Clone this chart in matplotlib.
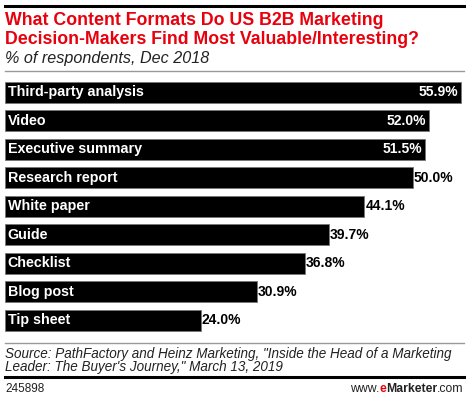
import matplotlib
matplotlib.use("Agg")
import matplotlib.pyplot as plt
from matplotlib.lines import Line2D

plt.rcParams['font.family'] = ['Liberation Sans', 'DejaVu Sans']

categories = ["Third-party analysis", "Video", "Executive summary", "Research report",
              "White paper", "Guide", "Checklist", "Blog post", "Tip sheet"]
values = [55.9, 52.0, 51.5, 50.0, 44.1, 39.7, 36.8, 30.9, 24.0]
labels = ["55.9%", "52.0%", "51.5%", "50.0%", "44.1%", "39.7%", "36.8%", "30.9%", "24.0%"]

W, H = 470, 399
fig = plt.figure(figsize=(W / 100, H / 100), dpi=100)


def fx(px):
    return px / W


def fy(py):
    return 1 - py / H


def hline(py, color, lw, x0=5, x1=464):
    fig.add_artist(Line2D([fx(x0), fx(x1)], [fy(py), fy(py)], color=color, lw=lw,
                          transform=fig.transFigure))


hline(6, "black", 2.2)
fig.text(fx(5), fy(20.5), "What Content Formats Do US B2B Marketing", color="#e8000d",
         fontsize=12.8, fontweight="bold", va="center", ha="left")
fig.text(fx(5), fy(39.5), "Decision-Makers Find Most Valuable/Interesting?", color="#e8000d",
         fontsize=12.8, fontweight="bold", va="center", ha="left")
fig.text(fx(5), fy(58.5), "% of respondents, Dec 2018", color="#222222",
         fontsize=11.6, style="italic", va="center", ha="left")
hline(71, "#999999", 1.0)

# bars
top, bottom = 78, 334.5
ax = fig.add_axes([fx(5), fy(bottom), fx(465) - fx(5), (bottom - top) / H])
y = list(range(len(categories)))
ax.barh(y, values, height=0.74, color="black", edgecolor="#777777", linewidth=0.6)
ax.set_ylim(len(categories) - 0.5, -0.5)
ax.set_xlim(0, 460 / 8.15)
ax.axis("off")
for i, (v, cat, lab) in enumerate(zip(values, categories, labels)):
    ax.text(0.35, i, cat, color="white", fontsize=10.3, fontweight="bold",
            va="center", ha="left")
    if i < 3:
        ax.text(v - 0.3, i, lab, color="white", fontsize=10, fontweight="bold",
                va="center", ha="right")
    else:
        ax.text(v + 0.15, i, lab, color="black", fontsize=10, fontweight="bold",
                va="center", ha="left")

hline(343, "#999999", 1.0)
fig.text(fx(5), fy(354), "Source: PathFactory and Heinz Marketing, \"Inside the Head of a Marketing",
         color="#222222", fontsize=9.75, style="italic", va="center", ha="left")
fig.text(fx(5), fy(367), "Leader: The Buyer's Journey,\" March 13, 2019",
         color="#222222", fontsize=9.75, style="italic", va="center", ha="left")
hline(377, "black", 2.2)
fig.text(fx(5), fy(388.5), "245898", color="#222222", fontsize=8.5, va="center", ha="left")

# www.eMarketer.com, built right to left
fig.canvas.draw()
r = fig.canvas.get_renderer()
parts = [(".com", "normal", "#222222"), ("Marketer", "bold", "#222222"),
         ("e", "bold", "#e8000d"), ("www.", "normal", "#222222")]
xr = fx(464)
for txt, wt, col in parts:
    t = fig.text(xr, fy(388.5), txt, color=col, fontsize=8.8, fontweight=wt,
                 va="center", ha="right")
    bb = t.get_window_extent(renderer=r)
    xr -= bb.width / W

fig.savefig("out.png", dpi=100)
